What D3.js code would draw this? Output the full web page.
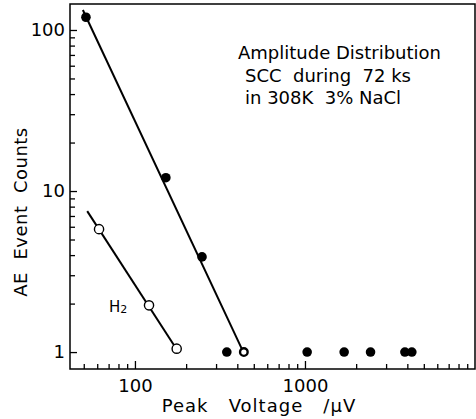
<!DOCTYPE html>
<html>
<head>
<meta charset="utf-8">
<script src="https://cdn.jsdelivr.net/npm/d3@7/dist/d3.min.js"></script>
<style>
  body { margin: 0; background: #fff; }
  svg { display: block; }
  .axis path { display: none; }
  .axis line { stroke: #000; stroke-width: 1.3; }
  .axis text { font-family: 'DejaVu Sans', sans-serif; font-size: 18px; fill: #000; }
  .lbl { font-family: 'DejaVu Sans', sans-serif; fill: #000; }
</style>
</head>
<body>
<div id="vis"></div>
<script>
// filled circles: SCC events
var solidV = [51.5, 152, 248, 347, 1030, 1700, 2430, 3870, 4250];
var solidN = [120, 12.1, 3.9, 1, 1, 1, 1, 1, 1];
// end point of the SCC fit (drawn as heavy ring)
var endV = [437];
var endN = [1];
// open circles: H2
var h2V = [61.5, 121, 176];
var h2N = [5.8, 1.95, 1.05];
// fitted lines
var fitSccV = [49.4, 430];
var fitSccN = [133, 1.02];
var fitH2V = [52.4, 172];
var fitH2N = [7.5, 1.08];

var xMajor = [100, 1000];
var yMajor = [1, 10, 100];
var noteLines = ['Amplitude Distribution', 'SCC  during  72 ks', 'in 308K  3% NaCl'];

var W = 476, H = 419;
var margin = { left: 70, right: 475, top: 4, bottom: 369 };

var svg = d3.select('#vis').append('svg')
    .attr('width', W)
    .attr('height', H);

var xScale = d3.scaleLog().domain([41.5, 10000]).range([margin.left, margin.right]);
var yScale = d3.scaleLog().domain([0.785, 145]).range([margin.bottom, margin.top]);

var minorX = [], minorY = [];
[10, 100, 1000].forEach(function(d) {
    for (var k = 2; k <= 9; k++) {
        var v = d * k;
        if (v > 41.5 && v < 10000) minorX.push(v);
    }
});
[1, 10].forEach(function(d) {
    for (var k = 2; k <= 9; k++) minorY.push(d * k);
});

// frame
svg.append('rect')
    .attr('x', margin.left).attr('y', margin.top)
    .attr('width', margin.right - margin.left).attr('height', margin.bottom - margin.top)
    .attr('fill', 'none').attr('stroke', '#000').attr('stroke-width', 1.5);

// minor ticks
svg.append('g').attr('class', 'axis')
    .attr('transform', 'translate(0,' + margin.bottom + ')')
    .call(d3.axisBottom(xScale).tickValues(minorX).tickSize(-5).tickFormat(''));
svg.append('g').attr('class', 'axis')
    .attr('transform', 'translate(' + margin.left + ',0)')
    .call(d3.axisLeft(yScale).tickValues(minorY).tickSize(-5).tickFormat(''));

// major ticks with labels
var xAxis = svg.append('g').attr('class', 'axis')
    .attr('transform', 'translate(0,' + margin.bottom + ')')
    .call(d3.axisBottom(xScale).tickValues(xMajor).tickSize(-8).tickFormat(d3.format('d')));
xAxis.selectAll('text').attr('y', 10).attr('dy', '0.71em');

var yAxis = svg.append('g').attr('class', 'axis')
    .attr('transform', 'translate(' + margin.left + ',0)')
    .call(d3.axisLeft(yScale).tickValues(yMajor).tickSize(-7).tickFormat(d3.format('d')));
yAxis.selectAll('text').attr('x', -5);

// fit lines
var line = d3.line()
    .x(function(d) { return xScale(d[0]); })
    .y(function(d) { return yScale(d[1]); });

svg.append('path')
    .attr('d', line(d3.zip(fitSccV, fitSccN)))
    .attr('fill', 'none').attr('stroke', '#000').attr('stroke-width', 2);
svg.append('path')
    .attr('d', line(d3.zip(fitH2V, fitH2N)))
    .attr('fill', 'none').attr('stroke', '#000').attr('stroke-width', 2);

// points
svg.selectAll('circle.solid')
    .data(d3.zip(solidV, solidN))
    .enter().append('circle')
    .attr('class', 'solid')
    .attr('cx', function(d) { return xScale(d[0]); })
    .attr('cy', function(d) { return yScale(d[1]); })
    .attr('r', 4.8)
    .attr('fill', '#000');

svg.selectAll('circle.end')
    .data(d3.zip(endV, endN))
    .enter().append('circle')
    .attr('class', 'end')
    .attr('cx', function(d) { return xScale(d[0]); })
    .attr('cy', function(d) { return yScale(d[1]); })
    .attr('r', 3.8)
    .attr('fill', '#fff').attr('stroke', '#000').attr('stroke-width', 2.4);

svg.selectAll('circle.h2')
    .data(d3.zip(h2V, h2N))
    .enter().append('circle')
    .attr('class', 'h2')
    .attr('cx', function(d) { return xScale(d[0]); })
    .attr('cy', function(d) { return yScale(d[1]); })
    .attr('r', 4.6)
    .attr('fill', '#fff').attr('stroke', '#000').attr('stroke-width', 1.4);

// H2 label
var h2 = svg.append('text').attr('class', 'lbl')
    .attr('x', 109).attr('y', 312)
    .style('font-size', '15px')
    .text('H');
h2.append('tspan').attr('dy', 1).style('font-size', '11px').text('2');

// annotation
svg.selectAll('text.note')
    .data(noteLines)
    .enter().append('text')
    .attr('class', 'lbl note')
    .attr('x', function(d, i) { return i === 0 ? 238 : 245; })
    .attr('y', function(d, i) { return 59 + i * 22.5; })
    .style('font-size', '18px')
    .style('white-space', 'pre')
    .text(function(d) { return d; });

// axis titles
svg.append('text').attr('class', 'lbl')
    .attr('x', 259).attr('y', 412)
    .attr('text-anchor', 'middle')
    .style('font-size', '18px')
    .style('letter-spacing', '1px')
    .style('white-space', 'pre')
    .text('Peak   Voltage   /\u00b5V');

svg.append('text').attr('class', 'lbl')
    .attr('transform', 'translate(27,212)rotate(-90)')
    .attr('text-anchor', 'middle')
    .style('font-size', '18px')
    .style('letter-spacing', '0.5px')
    .style('white-space', 'pre')
    .text('AE  Event  Counts');
</script>
</body>
</html>
